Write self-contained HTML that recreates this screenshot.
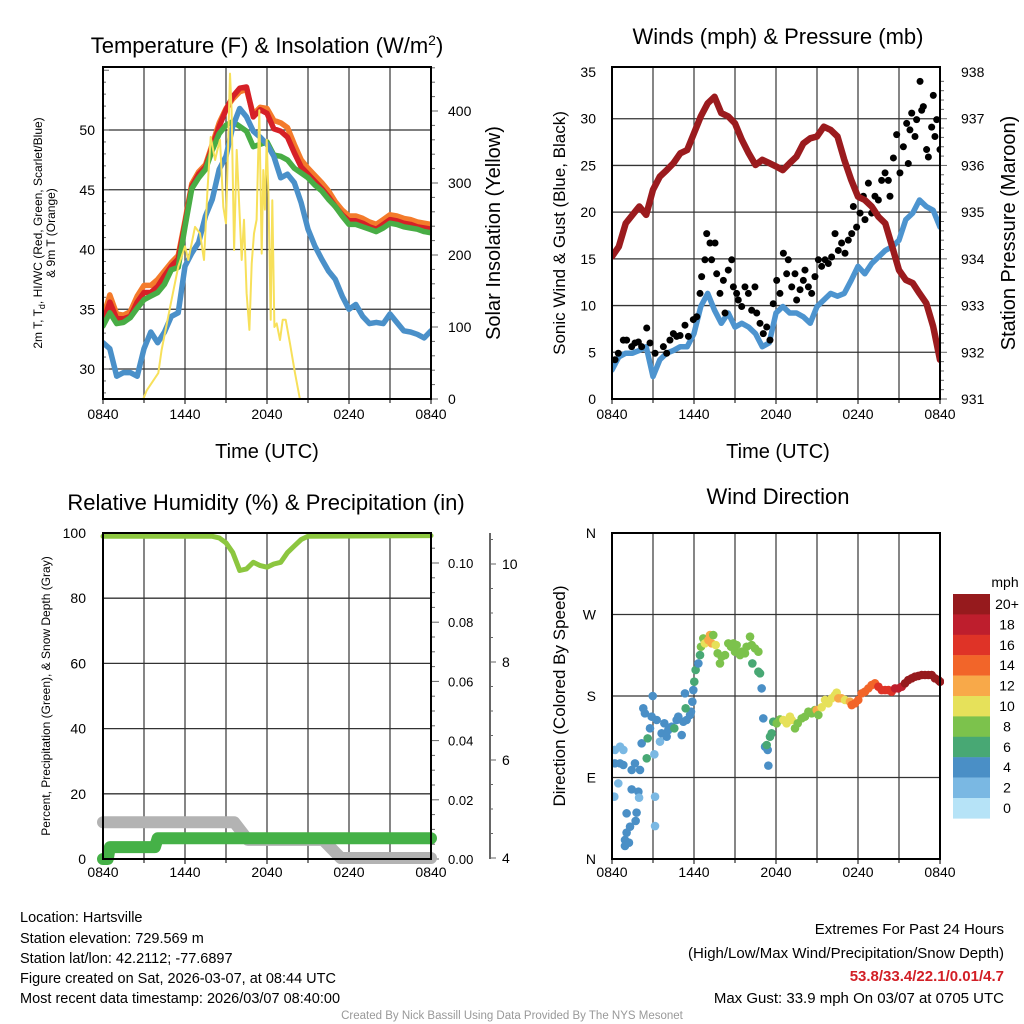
<!DOCTYPE html>
<html><head><meta charset="utf-8">
<style>
body{margin:0;background:#fff;}
svg{display:block;font-family:"Liberation Sans",Arial,sans-serif;}
</style></head>
<body>
<svg id="chart" width="1024" height="1024" viewBox="0 0 1024 1024" xmlns="http://www.w3.org/2000/svg">
<g id="p1"></g>
<g id="p2"></g>
<g id="p3"></g>
<g id="p4"></g>
<g font-size="14.5" fill="#000">
<text x="20" y="922">Location: Hartsville</text>
<text x="20" y="943">Station elevation: 729.569 m</text>
<text x="20" y="963">Station lat/lon: 42.2112; -77.6897</text>
<text x="20" y="983">Figure created on Sat, 2026-03-07, at 08:44 UTC</text>
<text x="20" y="1003">Most recent data timestamp: 2026/03/07 08:40:00</text>
</g>
<g font-size="15" text-anchor="end">
<text x="1004" y="934">Extremes For Past 24 Hours</text>
<text x="1004" y="958">(High/Low/Max Wind/Precipitation/Snow Depth)</text>
<text x="1004" y="981" fill="#d21f26" font-weight="bold">53.8/33.4/22.1/0.01/4.7</text>
<text x="1004" y="1003">Max Gust: 33.9 mph On 03/07 at 0705 UTC</text>
</g>
<text x="512" y="1019" font-size="11.5" fill="#999" text-anchor="middle">Created By Nick Bassill Using Data Provided By The NYS Mesonet</text>
</svg>
<script>
// ---------- data ----------
const hours = [0,0.5,1,1.5,2,2.5,3,3.5,4,4.5,5,5.5,6,6.5,7,7.5,8,8.5,9,9.5,10,10.5,11,11.5,12,12.5,13,13.5,14,14.5,15,15.5,16,16.5,17,17.5,18,18.5,19,19.5,20,20.5,21,21.5,22,22.5,23,23.5,24];
const timeTickLabels = ["0840","1440","2040","0240","0840"];
const tempRed = [33.9,35.6,34.2,34.2,34.4,35.6,36.4,36.4,36.9,37.8,38.6,39.2,42.2,45.3,46.3,46.9,48.6,50.3,51.7,52.8,53.5,53.6,51.1,51.7,51.4,50.1,49.9,49.4,48.1,46.9,46.3,45.7,45.1,44.4,43.6,42.9,42.4,42.4,42.2,41.9,41.7,42.1,42.5,42.4,42.2,42.1,41.9,41.8,41.7];
const tempOrange = [34.3,36.2,34.6,34.5,34.8,36.1,37.0,37.0,37.5,38.2,38.9,39.5,42.4,45.5,46.5,47.1,48.8,50.6,51.8,52.6,53.2,53.4,51.3,51.9,51.8,50.8,50.6,50.2,48.8,47.5,46.8,46.2,45.6,44.9,44.0,43.3,42.8,42.8,42.6,42.3,42.1,42.5,42.9,42.8,42.6,42.5,42.3,42.2,42.1];
const tempGreen = [33.6,34.7,33.8,33.9,34.3,35.1,35.8,36.1,36.4,37.1,38.3,38.5,41.9,45.1,46.0,46.7,48.3,49.7,50.4,50.7,50.3,49.9,48.6,48.8,49.0,47.9,47.8,47.5,46.8,46.4,46.0,45.4,44.9,44.2,43.6,42.8,42.1,42.1,41.9,41.7,41.5,41.8,42.2,42.1,41.9,41.8,41.7,41.5,41.4];
const tempBlue = [32.2,31.7,29.4,29.7,29.7,29.4,31.7,33.1,32.2,33.1,34.4,34.7,38.6,39.7,40.6,42.8,44.2,46.7,47.8,50.3,51.8,51.1,49.9,49.4,48.8,47.8,46.0,46.3,45.6,43.9,41.7,40.3,39.2,38.2,37.5,36.1,35.0,35.4,34.4,33.8,33.9,33.8,34.6,33.9,33.2,33.1,32.9,32.6,33.2];
const solarTimes = [0,2.95,3.2,4.05,4.29,5.02,5.51,5.76,6.0,6.24,6.73,7.1,7.39,7.63,7.88,8.2,8.37,8.56,8.8,9.0,9.29,9.41,9.59,9.78,9.98,10.15,10.32,10.51,10.71,10.88,11.05,11.24,11.44,11.61,11.73,11.85,11.98,12.1,12.27,12.39,12.54,12.71,12.95,13.15,13.37,13.68,14.05,14.41,24];
const solarValues = [0,0,12,36,68,138,184,198,212,193,239,230,193,286,364,332,346,360,267,244,452,401,207,346,263,193,249,147,96,188,230,249,401,202,318,263,360,286,110,276,100,105,82,110,110,77,36,0,0];
const tempTicks = [30,35,40,45,50];
const solarTicks = [0,100,200,300,400];

const pressure = [934.05,934.26,934.76,934.94,935.12,934.94,935.48,935.76,935.9,936.05,936.26,936.33,936.69,937.05,937.33,937.47,937.12,937.05,936.9,936.55,936.26,936.01,936.12,936.05,935.98,935.9,936.05,936.19,936.47,936.58,936.62,936.83,936.76,936.62,936.12,935.69,935.33,935.26,935.12,934.9,934.76,934.26,933.76,933.55,933.48,933.26,933.05,932.55,931.84];
const windSpeed = [3.1,4.5,4.9,4.9,5.2,5.6,2.4,4.2,4.9,5.2,5.6,5.6,7.0,9.9,11.3,9.5,8.1,9.2,7.7,8.1,7.7,7.0,5.6,6.0,9.2,9.9,9.2,9.2,8.8,8.1,9.9,10.6,11.3,11.0,11.3,12.7,14.2,13.4,14.5,15.2,15.9,16.3,17.0,19.2,19.9,21.3,20.6,20.2,18.4];
const gustTimes = [0.22,0.46,0.83,1.07,1.44,1.68,1.93,2.17,2.54,2.78,3.15,3.76,4.0,4.24,4.49,4.73,4.98,5.34,5.59,5.95,6.2,6.44,6.56,6.8,6.93,7.17,7.29,7.54,7.66,7.9,8.15,8.27,8.51,8.76,8.88,9.12,9.24,9.49,9.73,9.98,10.22,10.46,10.59,10.83,11.07,11.32,11.56,11.8,12.05,12.29,12.54,12.78,12.9,13.15,13.39,13.51,13.76,14.0,14.12,14.37,14.61,14.85,15.1,15.34,15.59,15.83,16.07,16.32,16.56,16.8,17.05,17.29,17.54,17.66,17.9,18.15,18.39,18.51,18.76,19.0,19.24,19.49,19.73,19.98,20.22,20.34,20.59,20.83,21.07,21.32,21.56,21.68,21.8,21.93,22.17,22.29,22.54,22.66,22.78,23.02,23.15,23.39,23.51,23.63,23.76,24.0];
const gustValues = [4.2,4.9,6.3,6.3,5.6,6.0,6.1,5.6,7.6,6.0,4.9,5.6,4.9,6.3,7.0,6.7,6.8,7.9,6.7,8.5,8.8,11.3,13.1,14.9,17.7,16.7,14.9,16.7,13.4,11.3,12.7,9.2,13.8,14.9,12.0,11.3,10.6,9.9,12.0,11.3,9.5,12.0,9.2,8.1,7.0,7.7,6.3,10.2,12.7,11.3,15.6,13.4,14.9,12.0,13.4,10.6,11.7,12.7,13.8,12.0,11.3,13.1,14.9,14.2,14.9,14.5,15.2,17.7,15.9,16.7,15.6,17.0,17.7,20.6,18.4,19.9,21.7,19.2,23.1,19.9,21.7,21.3,23.4,24.2,23.4,21.7,25.8,28.3,24.2,27.0,29.5,25.2,28.8,30.6,28.1,29.9,34.0,30.9,31.3,26.7,25.9,29.1,32.5,28.1,29.9,26.7];
const windTicks = [0,5,10,15,20,25,30,35];
const pressureTicks = [931,932,933,934,935,936,937,938];

const rhTimes = [0,8,8.5,9,9.5,10,10.5,11,11.5,12,12.5,13,13.5,14,14.5,15,24];
const rhValues = [99,99,98.5,97,94,88.5,89,91,90,89.5,90.5,91,94,96,98,99,99.2];
const precipTimes = [0,0.35,0.5,3.8,4.0,24];
const precipValues = [0,0,0.004,0.004,0.007,0.007];
const snowTimes = [0,9.6,10.6,16.1,17.4,24];
const snowValues = [4.73,4.73,4.37,4.37,4.0,4.0];
const rhTicks = [0,20,40,60,80,100];
const precipTicks = [0.00,0.02,0.04,0.06,0.08,0.10];
const snowTicks = [4,6,8,10];

const dirTimes = [0.17,0.46,0.22,0.59,0.83,0.22,0.59,0.83,1.44,1.68,2.05,1.44,1.93,1.98,1.07,1.8,1.73,1.32,1.07,0.95,0.95,1.24,2.17,2.29,2.41,2.61,2.54,2.9,2.98,2.78,3.1,3.15,3.15,3.27,3.51,3.63,3.83,4.0,4.12,4.37,4.56,4.73,4.85,5.1,5.22,5.46,5.71,5.78,5.39,5.34,5.88,5.95,6.02,6.12,6.32,6.44,6.51,6.68,6.8,7.05,7.17,7.41,7.29,7.59,7.73,7.9,8.02,8.27,8.51,8.71,8.88,9.0,9.12,9.37,9.49,9.73,9.85,10.1,10.22,10.46,10.71,10.27,10.71,10.83,10.95,11.07,11.2,11.39,11.44,11.32,11.56,11.68,11.8,12.05,12.29,12.54,12.78,13.02,13.15,13.39,13.59,13.88,14.12,14.37,14.61,14.85,14.98,15.1,15.34,15.59,15.83,16.07,16.32,16.44,16.56,16.8,17.05,17.41,17.54,17.78,18.02,18.27,18.51,18.76,19.0,19.24,19.49,19.73,19.98,20.22,20.46,20.71,20.95,21.2,21.44,21.68,21.93,22.17,22.41,22.66,22.9,23.15,23.39,23.63,23.88,24.0];
const dirValues = [68.8,83.5,120.4,124.0,120.4,105.6,105.6,103.8,98.3,105.6,98.3,76.9,74.3,67.7,50.4,51.2,42.0,35.7,29.1,21.0,14.4,18.0,127.7,166.4,160.8,133.2,111.2,157.2,180.0,144.3,115.6,68.8,36.4,153.5,129.6,138.8,149.8,135.1,142.4,146.1,144.3,153.5,157.2,136.9,151.6,153.5,159.0,162.7,166.4,182.9,173.7,186.6,195.8,208.7,216.0,225.2,234.4,243.6,238.1,241.8,247.3,247.3,238.1,236.3,227.1,216.0,223.4,225.2,238.1,234.4,238.1,228.9,236.3,225.2,228.9,227.1,234.4,245.5,236.3,232.6,228.9,216.0,206.8,205.0,188.4,155.3,124.0,120.4,103.1,125.9,135.1,138.8,151.6,149.8,154.2,153.5,149.8,157.2,153.5,144.3,149.8,155.3,157.2,162.7,160.8,164.5,164.5,159.0,167.5,175.6,171.9,177.4,181.1,183.7,177.4,177.4,175.6,173.7,170.0,171.9,175.6,182.9,184.8,188.4,192.1,194.0,190.3,186.6,186.6,186.6,184.8,188.4,188.4,190.3,194.0,197.6,199.5,201.3,202.1,203.2,203.2,203.2,203.2,199.5,197.6,195.8];
const dirSpeeds = [3,3,3,3,3,5,5,5,5,5,5,5,5,3,5,5,5,5,5,5,5,5,5,5,5,7,7,5,5,5,3,3,3,5,3,5,5,5,5,5,7,5,5,5,5,5,5,5,7,5,5,5,7,7,5,7,9,9,11,13,13,9,13,11,9,9,9,9,9,9,9,9,9,9,9,9,9,9,9,9,9,7,7,7,5,5,5,5,5,7,7,7,7,9,9,11,11,11,11,9,9,9,9,9,9,9,13,9,11,11,11,11,11,11,13,13,11,13,15,15,15,15,15,15,15,15,17,17,17,17,17,19,19,19,21,21,21,21,21,21,21,21,21,21,21,21];
const dirTickLabels = ["N","E","S","W","N"];
const cbLabels = ["20+","18","16","14","12","10","8","6","4","2","0"];
const cbColors = ["#961a1d","#be1e2d","#df3327","#f26529","#f8a949","#e6e15a","#7cc24c","#48a874","#4a8fc6","#7ab8e3","#b6e3f7"];

// ---------- helpers ----------
const NS = "http://www.w3.org/2000/svg";
function mk(parent, tag, attrs, text){
  const e = document.createElementNS(NS, tag);
  for (const k in attrs) e.setAttribute(k, attrs[k]);
  if (text !== undefined) e.textContent = text;
  parent.appendChild(e);
  return e;
}
function timeScale(x0){ return t => x0 + t * 328 / 24; }
function linScale(v0, y0, v1, y1){ return v => y0 + (v - v0) * (y1 - y0) / (v1 - v0); }
function pathD(ts, vs, xs, ys){
  return ts.map((t,i)=>(i?"L":"M")+xs(t).toFixed(1)+","+ys(vs[i]).toFixed(1)).join("");
}
function frame(g, x0, y0, name){
  const xs = timeScale(x0);
  for (let h=3; h<24; h+=3){
    const l = mk(g,"line",{x1:xs(h),x2:xs(h),y1:y0,y2:y0+(name==="top"?332:326),stroke:"#444","stroke-width":1.3});
    
    
  }
  timeTickLabels.forEach((lab,i)=>{
    const t = mk(g,"text",{x:xs(i*6),y:(name==="top"?419:877),"font-size":14,"text-anchor":"middle"},lab);
    
    
    const tk = mk(g,"line",{x1:xs(i*6),x2:xs(i*6),y1:(name==="top"?399:859),y2:(name==="top"?404:864),stroke:"#000","stroke-width":1});
    
    
  });
  for (let h=3; h<24; h+=6){
    const tk = mk(g,"line",{x1:xs(h),x2:xs(h),y1:(name==="top"?399:859),y2:(name==="top"?403:863),stroke:"#000","stroke-width":1});
    
    
  }
}
function hgrid(g, x0, y){
  const l = mk(g,"line",{x1:x0,x2:x0+328,y1:y,y2:y,stroke:"#333","stroke-width":1.3});
  
  
}
function box(g, x0, y0, h){
  const r = mk(g,"rect",{x:x0,y:y0,width:328,height:h,fill:"none",stroke:"#000","stroke-width":2});
  
  
}
function line(g, ts, vs, xs, ys, color, w, name){
  const p = mk(g,"path",{d:pathD(ts,vs,xs,ys),fill:"none",stroke:color,"stroke-width":w,"stroke-linejoin":"round","stroke-linecap":"round"});
  
  
  return p;
}
function stepPath(ts, vs, xs, ys){
  let d = "M"+xs(ts[0])+","+ys(vs[0]);
  for (let i=1;i<ts.length;i++) d += "L"+xs(ts[i])+","+ys(vs[i]);
  return d;
}

// ---------- panel 1 ----------
(function(){
  const g = document.getElementById("p1");
  const x0 = 103, y0 = 67;
  const xs = timeScale(x0);
  const yT = linScale(30, 369, 50, 130);
  const yS = linScale(0, 399, 400, 111);
  frame(g, x0, y0, "top");
  tempTicks.forEach(v=>{
    hgrid(g, x0, yT(v));
    const t = mk(g,"text",{x:95,y:yT(v)+5,"font-size":14,"text-anchor":"end"},v);
    
    
  });
  for (let v=28; v<=55; v++){
    const tk = mk(g,"line",{x1:x0,x2:x0+(v%5===0?6:3),y1:yT(v),y2:yT(v),stroke:"#666","stroke-width":1});
    
    
  }
  solarTicks.forEach(v=>{
    const t = mk(g,"text",{x:448,y:yS(v)+5,"font-size":14},v);
    
    
  });
  for (let v=0; v<=460; v+=20){
    const tk = mk(g,"line",{x1:431,x2:431+(v%100===0?7:4),y1:yS(v),y2:yS(v),stroke:"#666","stroke-width":1});
    
    
  }
  const clip = mk(g,"clipPath",{id:"c1"}); mk(clip,"rect",{x:x0,y:y0,width:328,height:332});
  const cg = mk(g,"g",{"clip-path":"url(#c1)"});
  
  
  line(cg, hours, tempOrange, xs, yT, "#f47b2b", 5.5, "temp-9m-orange-line");
  line(cg, hours, tempRed, xs, yT, "#d62027", 5.5, "temp-2m-red-line");
  line(cg, hours, tempGreen, xs, yT, "#48ad45", 5.5, "dewpoint-green-line");
  line(cg, hours, tempBlue, xs, yT, "#4a90c9", 5.5, "heat-index-blue-line");
  line(cg, solarTimes, solarValues, xs, yS, "#f7e05a", 2, "solar-insolation-line");
  box(g, x0, y0, 332);
  const ti = mk(g,"text",{x:267,y:53,"font-size":22,"text-anchor":"middle"});
  ti.innerHTML = 'Temperature (F) &amp; Insolation (W/m<tspan dy="-8" font-size="14">2</tspan><tspan dy="8">)</tspan>';
  
  
  const yl = mk(g,"text",{transform:"translate(42,233) rotate(-90)","font-size":12,"text-anchor":"middle"});
  yl.innerHTML = '2m T, T<tspan dy="3" font-size="9">d</tspan><tspan dy="-3">, HI/WC (Red, Green, Scarlet/Blue)</tspan>';
  
  
  const yl2 = mk(g,"text",{transform:"translate(55,233) rotate(-90)","font-size":12,"text-anchor":"middle"},"& 9m T (Orange)");
  
  
  const yr = mk(g,"text",{transform:"translate(500,233) rotate(-90)","font-size":20,"text-anchor":"middle"},"Solar Insolation (Yellow)");
  
  
  const xt = mk(g,"text",{x:267,y:458,"font-size":20,"text-anchor":"middle"},"Time (UTC)");
  
  
})();

// ---------- panel 2 ----------
(function(){
  const g = document.getElementById("p2");
  const x0 = 612, y0 = 67;
  const xs = timeScale(x0);
  const yW = linScale(0, 399, 35, 72);
  const yP = linScale(931, 399, 938, 72);
  frame(g, x0, y0, "top");
  windTicks.forEach(v=>{
    if (v>0 && v<35) hgrid(g, x0, yW(v));
    const t = mk(g,"text",{x:596,y:yW(v)+5,"font-size":14,"text-anchor":"end"},v);
    
    
  });
  pressureTicks.forEach(v=>{
    const t = mk(g,"text",{x:961,y:yP(v)+5,"font-size":14},v);
    
    
  });
  for (let v=931; v<=938; v+=0.2){
    const tk = mk(g,"line",{x1:940,x2:940+(Math.abs(v-Math.round(v))<0.01?7:4),y1:yP(v),y2:yP(v),stroke:"#666","stroke-width":1});
    
    
  }
  const clip = mk(g,"clipPath",{id:"c2"}); mk(clip,"rect",{x:x0,y:y0,width:328,height:332});
  const cg = mk(g,"g",{"clip-path":"url(#c2)"});
  
  
  line(cg, hours, windSpeed, xs, yW, "#4d94cf", 5.5, "sonic-wind-line");
  gustTimes.forEach((t,i)=>{
    const c = mk(cg,"circle",{cx:xs(t),cy:yW(gustValues[i]),r:3.5,fill:"#000"});
    
    
  });
  line(cg, hours, pressure, xs, yP, "#9b1b1e", 6.5, "pressure-line");
  box(g, x0, y0, 332);
  const ti = mk(g,"text",{x:778,y:44,"font-size":22,"text-anchor":"middle"},"Winds (mph) & Pressure (mb)");
  
  
  const yl = mk(g,"text",{transform:"translate(565,233) rotate(-90)","font-size":17,"text-anchor":"middle"},"Sonic Wind & Gust (Blue, Black)");
  
  
  const yr = mk(g,"text",{transform:"translate(1015,233) rotate(-90)","font-size":20,"text-anchor":"middle"},"Station Pressure (Maroon)");
  
  
  const xt = mk(g,"text",{x:778,y:458,"font-size":20,"text-anchor":"middle"},"Time (UTC)");
  
  
})();

// ---------- panel 3 ----------
(function(){
  const g = document.getElementById("p3");
  const x0 = 103, y0 = 533;
  const xs = timeScale(x0);
  const yR = linScale(0, 859, 100, 533);
  const yPr = linScale(0, 859, 0.10, 563);
  const ySn = linScale(4, 858, 10, 564);
  frame(g, x0, y0, "bottom");
  rhTicks.forEach(v=>{
    if (v>0 && v<100) hgrid(g, x0, yR(v));
    const t = mk(g,"text",{x:86,y:yR(v)+5,"font-size":14,"text-anchor":"end"},v);
    
    
  });
  precipTicks.forEach(v=>{
    const t = mk(g,"text",{x:448,y:yPr(v)+5,"font-size":13},v.toFixed(2));
    
    
  });
  for (let v=0; v<=0.11; v+=0.005){
    const tk = mk(g,"line",{x1:431,x2:431+(Math.round(v*1000)%20===0?8:4),y1:yPr(v),y2:yPr(v),stroke:"#666","stroke-width":1});
    
    
  }
  const ax = mk(g,"line",{x1:490,x2:490,y1:533,y2:859,stroke:"#000","stroke-width":1.2});
  
  
  for (let v=4; v<=10.6; v+=0.5){
    const tk = mk(g,"line",{x1:490,x2:490+(Math.abs(v-Math.round(v))<0.01 && Math.round(v)%2===0?6:3),y1:ySn(v),y2:ySn(v),stroke:"#666","stroke-width":1});
    
    
  }
  snowTicks.forEach(v=>{
    const t = mk(g,"text",{x:502,y:ySn(v)+5,"font-size":14},v);
    
    
  });
  const clip = mk(g,"clipPath",{id:"c3"}); mk(clip,"rect",{x:x0-8,y:y0,width:344,height:340});
  const cg = mk(g,"g",{"clip-path":"url(#c3)"});
  
  
  const sp = mk(cg,"path",{d:stepPath(snowTimes,snowValues,xs,ySn),fill:"none",stroke:"#b3b3b3","stroke-width":12,"stroke-linecap":"round","stroke-linejoin":"round"});
  
  
  const pp = mk(cg,"path",{d:stepPath(precipTimes,precipValues,xs,yPr),fill:"none",stroke:"#45b147","stroke-width":12,"stroke-linecap":"round","stroke-linejoin":"round"});
  
  
  line(cg, rhTimes, rhValues, xs, yR, "#8cc63f", 5, "relative-humidity-line");
  box(g, x0, y0, 326);
  const ti = mk(g,"text",{x:266,y:510,"font-size":22,"text-anchor":"middle"},"Relative Humidity (%) & Precipitation (in)");
  
  
  const yl = mk(g,"text",{transform:"translate(50,696) rotate(-90)","font-size":12,"text-anchor":"middle"},"Percent, Precipitation (Green), & Snow Depth (Gray)");
  
  
})();

// ---------- panel 4 ----------
(function(){
  const g = document.getElementById("p4");
  const x0 = 612, y0 = 533;
  const xs = timeScale(x0);
  const yD = linScale(0, 859, 360, 533);
  const speedColor = s => cbColors[10 - Math.min(10, Math.floor(s/2))];
  frame(g, x0, y0, "bottom");
  dirTickLabels.forEach((lab,i)=>{
    const v = i*90;
    if (i>0 && i<4) hgrid(g, x0, yD(v));
    const t = mk(g,"text",{x:596,y:yD(v)+5,"font-size":14,"text-anchor":"end"},lab);
    
    
  });
  const clip = mk(g,"clipPath",{id:"c4"}); mk(clip,"rect",{x:x0,y:y0,width:332,height:326});
  const cg = mk(g,"g",{"clip-path":"url(#c4)"});
  
  
  dirTimes.forEach((t,i)=>{
    const c = mk(cg,"circle",{cx:xs(t),cy:yD(dirValues[i]),r:4.3,fill:speedColor(dirSpeeds[i])});
    
    
  });
  box(g, x0, y0, 326);
  const ti = mk(g,"text",{x:778,y:504,"font-size":22,"text-anchor":"middle"},"Wind Direction");
  
  
  const yl = mk(g,"text",{transform:"translate(565,696) rotate(-90)","font-size":17,"text-anchor":"middle"},"Direction (Colored By Speed)");
  
  
  const cb = mk(g,"g",{});
  
  
  const u = mk(cb,"text",{x:1005,y:587,"font-size":14,"text-anchor":"middle"},"mph");
  
  
  cbLabels.forEach((lab,i)=>{
    const r = mk(cb,"rect",{x:953,y:594+i*20.4,width:37,height:20.6,fill:cbColors[i]});
    
    
    const t = mk(cb,"text",{x:1007,y:594+i*20.4+15,"font-size":14,"text-anchor":"middle"},lab);
    
    
  });
})();
</script>
</body></html>
